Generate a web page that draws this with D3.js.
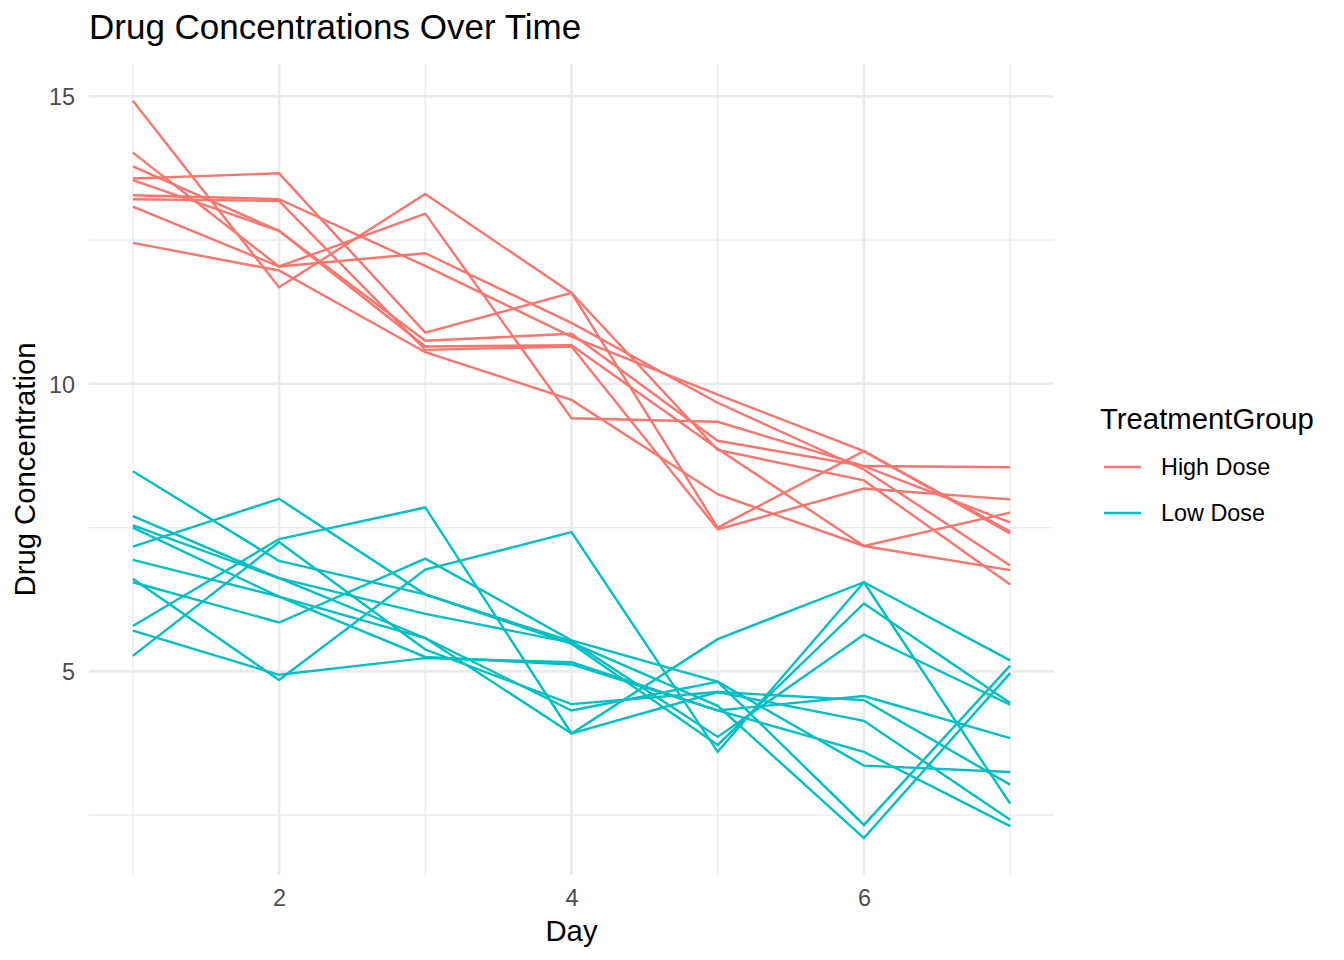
<!DOCTYPE html>
<html>
<head>
<meta charset="utf-8">
<script src="https://cdn.jsdelivr.net/npm/d3@7/dist/d3.min.js"></script>
<style>
  body { margin: 0; background: #fff; }
  text { font-family: "Liberation Sans", Arial, Helvetica, sans-serif; }
</style>
</head>
<body>
<svg id="chart" width="1344" height="960"></svg>
<script>
  'use strict'

  // data
  var days = [1, 2, 3, 4, 5, 6, 7]
  var groups = ['High Dose', 'Low Dose']
  var groupColors = ['#F8766D', '#00BFC4']

  var highDose = [
    [14.92, 11.68, 13.30, 11.58, 7.50, 8.83, 7.40],
    [14.02, 12.04, 12.96, 9.40, 9.34, 8.57, 8.55],
    [13.08, 12.04, 12.27, 11.06, 9.67, 8.51, 6.84],
    [13.78, 12.66, 10.75, 10.87, 9.01, 8.57, 7.59],
    [13.54, 12.66, 10.65, 10.67, 8.87, 7.18, 7.76],
    [13.57, 13.66, 10.89, 11.58, 8.85, 8.32, 6.51],
    [13.28, 13.21, 12.05, 10.82, 9.81, 8.83, 7.43],
    [13.21, 13.18, 10.59, 10.65, 7.47, 8.18, 7.99],
    [12.45, 11.97, 10.55, 9.72, 8.08, 7.18, 6.76]
  ]

  var lowDose = [
    [8.48, 6.92, 6.34, 5.52, 3.86, 5.64, 4.42],
    [7.17, 8.00, 6.34, 5.48, 3.72, 6.18, 4.45],
    [5.79, 7.30, 7.85, 3.92, 5.56, 6.55, 5.19],
    [5.27, 7.25, 5.38, 4.43, 4.64, 4.50, 3.03],
    [5.71, 4.94, 5.23, 5.16, 4.32, 4.57, 3.84],
    [6.61, 4.85, 6.77, 7.42, 3.60, 6.55, 2.70],
    [6.55, 5.85, 6.96, 5.54, 4.82, 3.36, 3.25],
    [7.70, 6.62, 6.00, 5.50, 4.40, 2.10, 4.97],
    [7.54, 6.62, 5.58, 4.32, 4.82, 2.33, 5.10],
    [7.50, 6.30, 5.58, 3.92, 4.64, 4.14, 2.42],
    [6.94, 6.30, 5.25, 5.12, 4.32, 3.60, 2.31]
  ]

  var xMajor = [2, 4, 6]
  var xMinor = [1, 3, 5, 7]
  var yMajor = [5, 10, 15]
  var yMinor = [2.5, 7.5, 12.5]

  var panel = { left: 89, right: 1054, top: 64, bottom: 875 }
  var svg = d3.select('#chart')

  // ggplot style 5% expansion on both axes
  function expand (ext) {
    var pad = (ext[1] - ext[0]) * 0.05
    return [ext[0] - pad, ext[1] + pad]
  }

  var allValues = d3.merge(highDose.concat(lowDose))
  var x = d3.scaleLinear()
    .domain(expand(d3.extent(days)))
    .range([panel.left, panel.right])
  var y = d3.scaleLinear()
    .domain(expand(d3.extent(allValues)))
    .range([panel.bottom, panel.top])

  // grid
  var grid = svg.append('g')
  function hLines (vals, w) {
    grid.selectAll(null).data(vals).enter().append('line')
      .attr('x1', panel.left).attr('x2', panel.right)
      .attr('y1', function (d) { return y(d) }).attr('y2', function (d) { return y(d) })
      .attr('stroke', '#EBEBEB').attr('stroke-width', w)
  }
  function vLines (vals, w) {
    grid.selectAll(null).data(vals).enter().append('line')
      .attr('y1', panel.top).attr('y2', panel.bottom)
      .attr('x1', function (d) { return x(d) }).attr('x2', function (d) { return x(d) })
      .attr('stroke', '#EBEBEB').attr('stroke-width', w)
  }
  hLines(yMinor, 1.3)
  vLines(xMinor, 1.3)
  hLines(yMajor, 2.6)
  vLines(xMajor, 2.6)

  // series
  var line = d3.line()
    .x(function (d, i) { return x(days[i]) })
    .y(function (d) { return y(d) })

  var series = [highDose, lowDose]
  series.forEach(function (rows, gi) {
    svg.append('g').selectAll('path').data(rows).enter().append('path')
      .attr('d', line)
      .attr('fill', 'none')
      .attr('stroke', groupColors[gi])
      .attr('stroke-width', 2.4)
  })

  // axes, drawn with d3 then stripped to the minimal theme look
  var xAxis = svg.append('g')
    .attr('transform', 'translate(0,' + (panel.bottom + 5) + ')')
    .call(d3.axisBottom(x).tickValues(xMajor).tickFormat(d3.format('d')).tickSize(0).tickPadding(9))
  var yAxis = svg.append('g')
    .attr('transform', 'translate(' + (panel.left - 8) + ',0)')
    .call(d3.axisLeft(y).tickValues(yMajor).tickFormat(d3.format('d')).tickSize(0).tickPadding(6))
  ;[xAxis, yAxis].forEach(function (a) {
    a.select('.domain').remove()
    a.selectAll('text')
      .attr('fill', '#4D4D4D')
      .style('font-size', '23.4px')
      .style('font-family', '"Liberation Sans", Arial, sans-serif')
  })
  yAxis.selectAll('text').attr('dy', '0.36em')

  // titles
  svg.append('text')
    .attr('x', 89).attr('y', 39)
    .attr('fill', '#000')
    .style('font-size', '35px')
    .text('Drug Concentrations Over Time')

  svg.append('text')
    .attr('x', (panel.left + panel.right) / 2).attr('y', 941)
    .attr('text-anchor', 'middle')
    .attr('fill', '#000')
    .style('font-size', '29.3px')
    .text('Day')

  svg.append('text')
    .attr('transform', 'translate(35,' + ((panel.top + panel.bottom) / 2) + ') rotate(-90)')
    .attr('text-anchor', 'middle')
    .attr('fill', '#000')
    .style('font-size', '29.3px')
    .text('Drug Concentration')

  // legend
  var legend = svg.append('g').attr('transform', 'translate(1100,0)')
  legend.append('text')
    .attr('x', 0).attr('y', 429)
    .attr('fill', '#000')
    .style('font-size', '29.3px')
    .text('TreatmentGroup')

  var item = legend.selectAll('.item').data(groups).enter().append('g')
    .attr('transform', function (d, i) { return 'translate(0,' + (467 + i * 46) + ')' })
  item.append('line')
    .attr('x1', 4).attr('x2', 41)
    .attr('stroke', function (d, i) { return groupColors[i] })
    .attr('stroke-width', 2.4)
  item.append('text')
    .attr('x', 61).attr('dy', '0.36em')
    .attr('fill', '#000')
    .style('font-size', '23.4px')
    .text(function (d) { return d })
</script>
</body>
</html>
